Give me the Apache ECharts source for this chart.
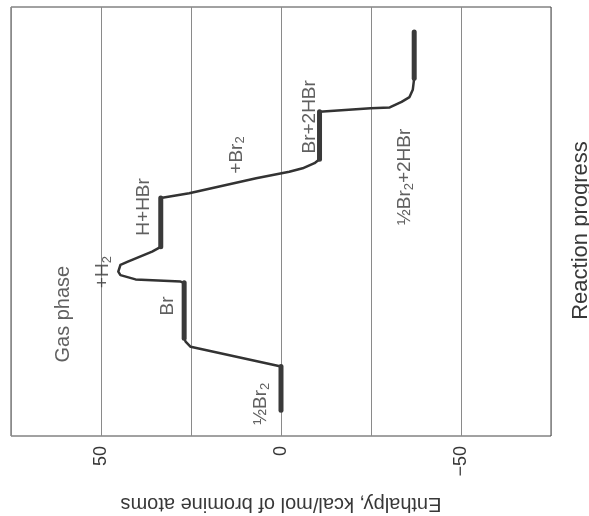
<!DOCTYPE html>
<html>
<head>
<meta charset="utf-8">
<script src="https://cdn.jsdelivr.net/npm/echarts@6/dist/echarts.min.js"></script>
<style>html,body{margin:0;padding:0;background:#fff}#c{width:589px;height:516px}</style>
</head>
<body>
<div id="c"></div>
<script>
// Enthalpy (kcal/mol of bromine atoms) along the path, and reaction progress (arbitrary 0-100)
const curveEnthalpy = [0, 0, 25.1, 26.5, 26.9, 26.9, 27.9, 40.4, 44.6, 45.2, 44.6, 42.7, 35.8, 33.4, 33.4, 25.5, 6.9, -2.3, -6.0, -9.3, -10.7, -10.7, -10.9, -24.9, -30.2, -33.5, -35.7, -36.6, -37.0, -37.0];
const curveProgress = [6.0, 16.2, 20.8, 22.0, 22.8, 35.7, 36.0, 36.5, 37.5, 38.3, 39.9, 40.6, 43.0, 44.1, 55.5, 56.6, 60.1, 61.6, 62.4, 63.6, 64.5, 75.6, 76.0, 76.4, 76.6, 77.9, 79.0, 80.7, 83.4, 94.2];

// Stable intermediates (thick plateaus)
const plateauNames = ['½Br2', 'Br', 'H+HBr', 'Br+2HBr', '½Br2+2HBr'];
const plateauEnthalpy = [0, 26.9, 33.4, -10.7, -37.0];
const plateauStart = [6.0, 22.8, 44.1, 64.5, 83.4];
const plateauEnd = [16.2, 35.7, 55.5, 75.6, 94.2];

// Annotation texts and their anchors (enthalpy, progress)
const labelTexts = ['{m|½Br}{s|2}', '{m|Br}', '{m|+H}{s|2}', '{g|Gas phase}', '{m|H+HBr}', '{m|+Br}{s|2}', '{m|Br+2HBr}', '{m|½Br}{s|2}{m|+2HBr}'];
const labelEnthalpy = [5.5, 31.4, 49.5, 60.4, 38.1, 12.4, -7.9, -34.3];
const labelProgress = [7.5, 30.3, 38.2, 28.4, 53.4, 65.5, 74.4, 60.4];

const tickLabels = { '50': '50', '0': '0', '-50': '\u221250' };

const chart = echarts.init(document.getElementById('c'), null, { renderer: 'canvas' });
const FONT = 'Liberation Sans, Arial, Helvetica, sans-serif';
const INK = '#383838';

const series = [{
  type: 'line',
  data: curveEnthalpy.map((h, i) => [h, curveProgress[i]]),
  showSymbol: false,
  symbol: 'none',
  smooth: false,
  lineStyle: { color: '#333', width: 2.5, join: 'round' },
  z: 3,
  silent: true
}];
plateauNames.forEach((n, i) => {
  series.push({
    name: n,
    type: 'line',
    data: [[plateauEnthalpy[i], plateauStart[i]], [plateauEnthalpy[i], plateauEnd[i]]],
    symbol: 'none',
    lineStyle: { color: '#3a3a3a', width: 5, cap: 'round' },
    z: 4,
    silent: true
  });
});
series.push({
  type: 'scatter',
  symbolSize: 0,
  data: labelTexts.map((t, i) => ({ value: [labelEnthalpy[i], labelProgress[i]], label: { formatter: t } })),
  label: {
    show: true,
    position: 'inside',
    rotate: 90,
    color: INK,
    fontFamily: FONT,
    rich: {
      m: { fontSize: 19, fontFamily: FONT, color: INK, lineHeight: 22, verticalAlign: 'middle' },
      s: { fontSize: 13, fontFamily: FONT, color: INK, lineHeight: 22, verticalAlign: 'bottom', padding: [10, 0, 0, 0] },
      g: { fontSize: 20, fontFamily: FONT, color: INK, lineHeight: 22 }
    }
  },
  z: 5,
  silent: true
});

chart.setOption({
  animation: false,
  backgroundColor: '#fff',
  grid: { left: 11, right: 38, top: 7, bottom: 80, containLabel: false, outerBoundsMode: 'none', show: true, borderColor: '#444', borderWidth: 1, backgroundColor: 'transparent' },
  xAxis: {
    type: 'value', min: -75, max: 75, interval: 25, inverse: true,
    axisLine: { show: false }, axisTick: { show: false },
    splitLine: { show: true, lineStyle: { color: '#8a8a8a', width: 1 } },
    axisLabel: {
      rotate: 90, margin: 10, fontSize: 18, color: INK, fontFamily: FONT,
      formatter: v => tickLabels[String(v)] || ''
    },
    name: 'Enthalpy, kcal/mol of bromine atoms',
    nameLocation: 'middle', nameRotate: 180, nameGap: 58,
    nameTextStyle: { fontSize: 20, color: INK, fontFamily: FONT }
  },
  yAxis: {
    type: 'value', min: 0, max: 100, position: 'right',
    axisLine: { show: false }, axisTick: { show: false }, axisLabel: { show: false },
    splitLine: { show: false },
    name: 'Reaction progress', nameLocation: 'middle', nameRotate: 90, nameGap: 19,
    nameTextStyle: { fontSize: 22, color: INK, fontFamily: FONT, padding: [0, 18, 0, 0] }
  },
  series: series
});
</script>
</body>
</html>
